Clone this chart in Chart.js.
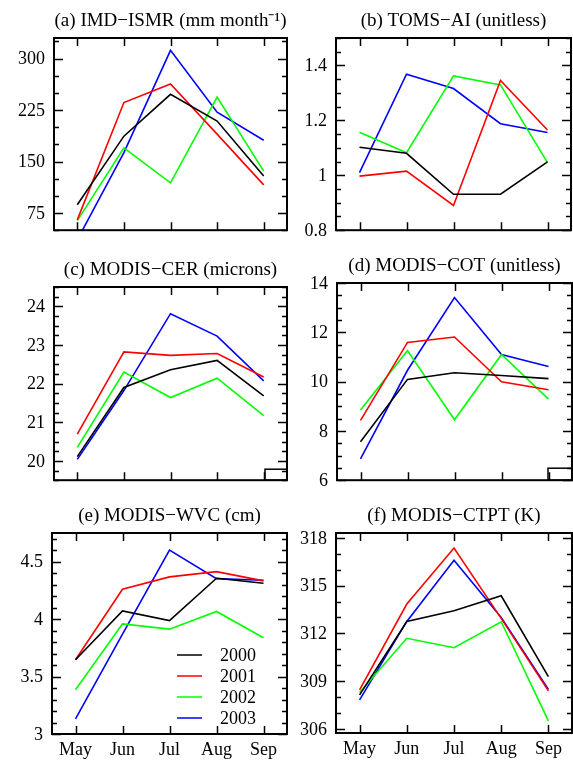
<!DOCTYPE html>
<html>
<head>
<meta charset="utf-8">
<script src="https://cdn.jsdelivr.net/npm/chart.js@4.4.1/dist/chart.umd.min.js"></script>
<style>
  body { margin: 0; background: #fff; }
  #wrap { position: relative; width: 573px; height: 760px; }
  canvas { position: absolute; }
</style>
</head>
<body>
<div id="wrap">
  <canvas id="cA" width="290" height="250" style="left:0;top:0"></canvas>
  <canvas id="cB" width="283" height="250" style="left:290px;top:0"></canvas>
  <canvas id="cC" width="290" height="250" style="left:0;top:250px"></canvas>
  <canvas id="cD" width="283" height="250" style="left:290px;top:250px"></canvas>
  <canvas id="cE" width="290" height="260" style="left:0;top:500px"></canvas>
  <canvas id="cF" width="283" height="260" style="left:290px;top:500px"></canvas>
</div>
<script>
const months = ['May', 'Jun', 'Jul', 'Aug', 'Sep'];
const years = ['2000', '2001', '2002', '2003'];

// (a) IMD-ISMR (mm/month)
const ismr2000 = [87, 187, 248, 209, 129];
const ismr2001 = [65, 236, 263, 190, 116];
const ismr2002 = [64, 170, 119, 244, 136];
const ismr2003 = [36, 163, 312, 222, 181];
const ismrTicks = [75, 150, 225, 300];

// (b) TOMS-AI
const ai2000 = [1.102, 1.080, 0.931, 0.931, 1.049];
const ai2001 = [0.997, 1.015, 0.890, 1.345, 1.165];
const ai2002 = [1.157, 1.082, 1.362, 1.329, 1.046];
const ai2003 = [1.010, 1.368, 1.316, 1.188, 1.156];
const aiTicks = [0.8, 1, 1.2, 1.4];

// (c) MODIS-CER (microns)
const cer2000 = [20.11, 21.90, 22.36, 22.60, 21.68];
const cer2001 = [20.69, 22.82, 22.73, 22.78, 22.17];
const cer2002 = [20.35, 22.30, 21.64, 22.14, 21.17];
const cer2003 = [20.04, 21.82, 23.81, 23.23, 22.07];
const cerTicks = [20, 21, 22, 23, 24];

// (d) MODIS-COT
const cot2000 = [7.56, 10.09, 10.36, 10.25, 10.12];
const cot2001 = [8.43, 11.59, 11.81, 9.99, 9.67];
const cot2002 = [8.85, 11.26, 8.45, 11.10, 9.29];
const cot2003 = [6.87, 10.46, 13.41, 11.10, 10.61];
const cotTicks = [6, 8, 10, 12, 14];

// (e) MODIS-WVC (cm)
const wvc2000 = [3.647, 4.072, 3.988, 4.356, 4.313];
const wvc2001 = [3.647, 4.260, 4.368, 4.414, 4.333];
const wvc2002 = [3.386, 3.959, 3.913, 4.067, 3.838];
const wvc2003 = [3.131, 3.870, 4.602, 4.353, 4.339];
const wvcTicks = [3, 3.5, 4, 4.5];

// (f) MODIS-CTPT (K)
const ctpt2000 = [308.14, 312.75, 313.42, 314.36, 309.29];
const ctpt2001 = [308.45, 313.84, 317.36, 312.94, 308.39];
const ctpt2002 = [308.29, 311.69, 311.10, 312.73, 306.51];
const ctpt2003 = [307.83, 312.75, 316.59, 313.00, 308.49];
const ctptTicks = [306, 309, 312, 315, 318];

const lineColors = ['#000000', '#ff0000', '#00ff00', '#0000ff'];
const FAMILY = "'Liberation Serif', 'Times New Roman', serif";
const FONT = { family: FAMILY, size: 18, weight: 'normal' };
const TITLE_FONT = { family: FAMILY, size: 19, weight: 'normal' };

// frame, inward ticks on all four sides, optional legend and corner box
const framePlugin = {
  id: 'frame',
  afterDatasetsDraw(chart, args, opts) {
    const { ctx, chartArea: a, scales } = chart;
    const x = scales.x, y = scales.y;
    ctx.save();
    ctx.strokeStyle = '#000';
    ctx.lineWidth = 1.5;
    ctx.beginPath();
    const n0 = Math.ceil(y.min / opts.minor - 1e-6);
    const n1 = Math.floor(y.max / opts.minor + 1e-6);
    for (let n = n0; n <= n1; n++) {
      const v = n * opts.minor;
      const isMajor = opts.majors.some(m => Math.abs(m - v) < opts.minor / 10);
      const len = isMajor ? 9 : 5;
      const py = Math.round(y.getPixelForValue(v)) + 0.5;
      ctx.moveTo(a.left, py); ctx.lineTo(a.left + len, py);
      ctx.moveTo(a.right, py); ctx.lineTo(a.right - len, py);
    }
    chart.data.labels.forEach((lab, i) => {
      const px = Math.round(x.getPixelForValue(i)) + 0.5;
      ctx.moveTo(px, a.top); ctx.lineTo(px, a.top + 8);
      ctx.moveTo(px, a.bottom); ctx.lineTo(px, a.bottom - 8);
    });
    ctx.stroke();

    if (opts.corner) {
      ctx.strokeRect(a.right - opts.corner[0], a.bottom - opts.corner[1], opts.corner[0], opts.corner[1]);
    }

    ctx.lineWidth = 2;
    ctx.strokeRect(a.left, a.top, a.right - a.left, a.bottom - a.top);

    if (opts.legend) {
      ctx.font = "18px " + FAMILY;
      ctx.textBaseline = 'middle';
      ctx.textAlign = 'left';
      chart.data.datasets.forEach((ds, i) => {
        const ly = a.bottom - 79 + i * 21;
        ctx.strokeStyle = ds.borderColor;
        ctx.lineWidth = 1.5;
        ctx.beginPath();
        ctx.moveTo(a.left + 125, ly); ctx.lineTo(a.left + 150, ly);
        ctx.stroke();
        ctx.fillStyle = '#000';
        ctx.fillText(ds.label, a.left + 168, ly + 1);
      });
    }
    ctx.restore();
  }
};

function makePanel(p) {
  const canvas = document.getElementById(p.id);
  const W = canvas.width, H = canvas.height;
  const datasets = p.series.map((s, i) => ({
    label: years[i],
    data: s,
    borderColor: lineColors[i],
    borderWidth: 1.6,
    pointRadius: 0,
    tension: 0,
    fill: false
  }));
  new Chart(canvas, {
    type: 'line',
    data: { labels: months, datasets: datasets },
    plugins: [framePlugin],
    options: {
      responsive: false,
      animation: false,
      devicePixelRatio: 1,
      events: [],
      layout: {
        autoPadding: false,
        padding: {
          left: 0,
          top: p.box.top - 28.8,
          right: W - p.box.right,
          bottom: p.showMonths ? 0 : H - p.box.bottom
        }
      },
      plugins: {
        legend: { display: false },
        tooltip: { enabled: false },
        title: {
          display: true,
          text: p.title,
          fullSize: false,
          color: '#000',
          font: TITLE_FONT,
          padding: { top: 0, bottom: 6 }
        },
        frame: { majors: p.majors, minor: p.minor, legend: !!p.legend, corner: p.corner }
      },
      scales: {
        x: {
          type: 'category',
          offset: true,
          grid: { display: false, drawTicks: false },
          border: { display: false },
          ticks: { display: !!p.showMonths, color: '#000', font: FONT, padding: 5, maxRotation: 0 },
          afterFit: s => { s.height = p.showMonths ? H - p.box.bottom : 0; }
        },
        y: {
          min: p.min,
          max: p.max,
          grid: { display: false, drawTicks: false },
          border: { display: false },
          ticks: { color: '#000', font: FONT, padding: 9, labelOffset: 1, callback: v => String(v) },
          afterBuildTicks: s => { s.ticks = p.majors.map(v => ({ value: v })); },
          afterFit: s => { s.width = p.box.left; }
        }
      }
    }
  });
}

makePanel({
  id: 'cA', title: '(a) IMD\u2212ISMR (mm month\u207B\u00B9)',
  series: [ismr2000, ismr2001, ismr2002, ismr2003],
  majors: ismrTicks, minor: 25, min: 50, max: 330,
  box: { left: 54, top: 38, right: 287, bottom: 240 }
});
makePanel({
  id: 'cB', title: '(b) TOMS\u2212AI (unitless)',
  series: [ai2000, ai2001, ai2002, ai2003],
  majors: aiTicks, minor: 0.05, min: 0.8, max: 1.5,
  box: { left: 46, top: 38, right: 281, bottom: 238 }
});
makePanel({
  id: 'cC', title: '(c) MODIS\u2212CER (microns)',
  series: [cer2000, cer2001, cer2002, cer2003],
  majors: cerTicks, minor: 0.25, min: 19.5, max: 24.5,
  box: { left: 54, top: 37, right: 287, bottom: 237 }, corner: [22, 11]
});
makePanel({
  id: 'cD', title: '(d) MODIS\u2212COT (unitless)',
  series: [cot2000, cot2001, cot2002, cot2003],
  majors: cotTicks, minor: 0.5, min: 6, max: 14,
  box: { left: 47, top: 33, right: 282, bottom: 235 }, corner: [24, 12]
});
makePanel({
  id: 'cE', title: '(e) MODIS\u2212WVC (cm)',
  series: [wvc2000, wvc2001, wvc2002, wvc2003],
  majors: wvcTicks, minor: 0.1, min: 3, max: 4.75,
  box: { left: 52, top: 33, right: 287, bottom: 234 }, showMonths: true, legend: true
});
makePanel({
  id: 'cF', title: '(f) MODIS\u2212CTPT (K)',
  series: [ctpt2000, ctpt2001, ctpt2002, ctpt2003],
  majors: ctptTicks, minor: 1, min: 305.75, max: 318.3,
  box: { left: 46, top: 33, right: 282, bottom: 233 }, showMonths: true
});
</script>
</body>
</html>
